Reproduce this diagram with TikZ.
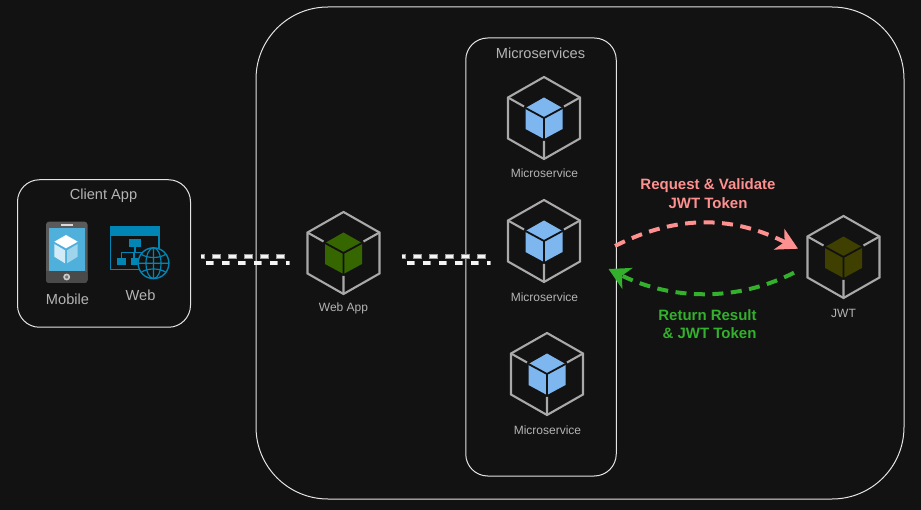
\documentclass[tikz,border=0pt]{standalone}
\usepackage{fontspec}
\setmainfont{Liberation Sans}
\usetikzlibrary{arrows.meta}
\definecolor{bgc}{HTML}{121212}
\definecolor{frame}{HTML}{E4E4E4}
\definecolor{hexc}{HTML}{A9A9A9}
\definecolor{lbl}{HTML}{B4B4B4}
\definecolor{webc}{HTML}{366600}
\definecolor{msc}{HTML}{7EB6F0}
\definecolor{jwtc}{HTML}{3F3F00}
\definecolor{pinkc}{HTML}{FF9090}
\definecolor{greenc}{HTML}{33B02C}
\definecolor{iconb}{HTML}{0085B4}
\definecolor{screenc}{HTML}{4FB0DC}
\definecolor{devc}{HTML}{5A5A5A}
\definecolor{devd}{HTML}{4A4A4A}
\definecolor{pipeb}{HTML}{9A9A9A}
\definecolor{pipew}{HTML}{F4F4F4}
\newcommand{\fs}[1]{\fontsize{#1}{#1}\selectfont}
\tikzset{
  x=1pt,y=-1pt,
  groupbox/.style={draw=frame,line width=1pt,rounded corners=#1,fill=none,inner sep=0pt},
  lab/.style={text=lbl,font=\fs{14.6},inner sep=0pt,anchor=center},
  smalllab/.style={text=lbl,font=\fs{12},inner sep=0pt,anchor=center},
  pinklab/.style={text=pinkc,font=\fs{15}\bfseries,inner sep=0pt,anchor=center},
  greenlab/.style={text=greenc,font=\fs{15}\bfseries,inner sep=0pt,anchor=center},
  hexline/.style={draw=hexc,line width=2.1pt,line join=miter},
  flowline/.style={line width=4pt,dash pattern=on 11pt off 7.5pt,
    -{Stealth[length=21pt,width=23pt,inset=6pt]}},
}
\newcommand{\cubeicon}[3]{% name, centre, colour
  \coordinate (#1) at (#2);
  \begin{scope}[shift={(#2)}]
    \draw[hexline] (0,-41) -- (36,-20.5) -- (36,20.5) -- (0,41) -- (-36,20.5) -- (-36,-20.5) -- cycle;
    \draw[hexline] (-36,-20.5) -- (-20,-11.5) (36,-20.5) -- (20,-11.5) (0,41) -- (0,23);
    \fill[#3] (0,-20.5) -- (18.5,-10) -- (18.5,11) -- (0,21) -- (-18.5,11) -- (-18.5,-10) -- cycle;
    \draw[bgc,line width=1.8pt] (-18.5,-10) -- (0,0) -- (18.5,-10) (0,0) -- (0,22);
  \end{scope}
}
\newcommand{\pipelink}[2]{%
  \draw[pipeb,line width=4.8pt,dash pattern=on 8.4pt off 7.6pt,dash phase=4.2pt] ([yshift=3.3pt]#1) -- ([xshift=-5pt,yshift=3.3pt]#2);
  \draw[pipeb,line width=4.8pt,dash pattern=on 8.4pt off 7.6pt] ([xshift=5pt,yshift=-3.3pt]#1) -- ([yshift=-3.3pt]#2);
  \draw[pipew,line width=3.2pt,dash pattern=on 7pt off 9pt,dash phase=3.5pt] ([yshift=3.3pt]#1) -- ([xshift=-5.7pt,yshift=3.3pt]#2);
  \draw[pipew,line width=3.2pt,dash pattern=on 7pt off 9pt] ([xshift=5.7pt,yshift=-3.3pt]#1) -- ([xshift=-.7pt,yshift=-3.3pt]#2);
}
\begin{document}
\begin{tikzpicture}
\fill[bgc] (0,0) rectangle (921,510);
\useasboundingbox (0,0) rectangle (921,510);

% group boxes
\node[groupbox=72pt,minimum width=648pt,minimum height=492pt] (outer) at (580,253) {};
\node[groupbox=22pt,minimum width=150.5pt,minimum height=438pt] (micro) at (541,257) {};
\node[groupbox=22pt,minimum width=173pt,minimum height=147.5pt] (client) at (104,253.5) {};
\node[lab] (clienttitle) at (103.5,196) {Client App};
\node[lab] (microtitle) at (540.5,53) {Microservices};

% mobile icon
\fill[devc,rounded corners=3pt] (46,221.7) rectangle (87.5,283);
\fill[devd,rounded corners=3pt] (46,271) -- (46,283) -- (87.5,283) -- (87.5,271) [sharp corners] -- cycle;
\fill[white!85!black] (60.5,224) rectangle (73,225.6);
\fill[screenc] (48.7,228) rectangle (85,271);
\fill[white] (66,235) -- (77.7,241.7) -- (66,248.3) -- (54.3,241.7) -- cycle;
\fill[white!75!screenc] (54.3,244) -- (65,250.3) -- (65,263.3) -- (54.3,256.7) -- cycle;
\fill[white!45!screenc] (67,250.3) -- (77.7,244) -- (77.7,256.7) -- (67,263.3) -- cycle;
\draw[draw=white!80!black,fill=black!55,line width=1.6pt] (66.7,277) circle (2.6);
\node[lab] (mobile) at (67.5,299.5) {Mobile};

% web icon
\fill[iconb] (110,226) rectangle (159.5,236);
\draw[iconb,line width=1.4pt] (110.7,226) -- (110.7,269.3) -- (142,269.3) (158.8,236) -- (158.8,250);
\fill[iconb] (129.3,239.3) rectangle (141,247.3);
\fill[iconb] (117.3,257.7) rectangle (125.7,265);
\fill[iconb] (130.7,257.7) rectangle (138,265);
\draw[iconb,line width=1.1pt] (135,247) -- (135,252.7) (121.5,257.7) -- (121.5,252.7) -- (150,252.7) (134,252.7) -- (134,257.7);
\fill[bgc] (153.5,263.2) circle (15.8);
\draw[iconb,line width=1.4pt] (153.5,263.2) circle (15.4);
\draw[iconb,line width=1.2pt] (153.5,263.2) ellipse (7.5 and 15.4) (153.5,247.8) -- (153.5,278.6) (138.1,263.2) -- (168.9,263.2);
\draw[iconb,line width=1.2pt] (141.5,254.5) .. controls (148,258.5) and (159,258.5) .. (165.5,254.5);
\draw[iconb,line width=1.2pt] (141.5,272) .. controls (148,268) and (159,268) .. (165.5,272);
\node[lab] (web) at (140.5,295) {Web};

% cube icons
\cubeicon{webapp}{343.5,253}{webc}
\cubeicon{msa}{544,118}{msc}
\cubeicon{msb}{544,241}{msc}
\cubeicon{msc}{547,374}{msc}
\cubeicon{jwt}{843.5,257}{jwtc}
\node[smalllab] (webapplab) at (343.5,308.5) {Web App};
\node[smalllab] (msalab) at (544.5,173.5) {Microservice};
\node[smalllab] (msblab) at (544.5,297) {Microservice};
\node[smalllab] (msclab) at (547.5,430) {Microservice};
\node[smalllab] (jwtlab) at (843.5,313) {JWT};

% pipes
\coordinate (p1s) at (200.5,259.8);
\coordinate (p1e) at (290,259.8);
\coordinate (p2s) at (401.5,259.8);
\coordinate (p2e) at (491,259.8);
\pipelink{p1s}{p1e}
\pipelink{p2s}{p2e}

% request / response flows
\coordinate (reqs) at (615,246);
\coordinate (reqe) at (798,248.7);
\coordinate (rets) at (794,272.7);
\coordinate (rete) at (608.5,269);
\draw[pinkc,flowline] (reqs) .. controls (680,213) and (735,217) .. (reqe);
\draw[greenc,flowline] (rets) .. controls (730,305) and (665,297) .. (rete);
\node[pinklab] (reqa) at (708,186) {Request \& Validate};
\node[pinklab] (reqb) at (708,203) {JWT Token};
\node[greenlab] (reta) at (707.5,315) {Return Result};
\node[greenlab] (retb) at (709.5,333) {\& JWT Token};
\end{tikzpicture}
\end{document}
